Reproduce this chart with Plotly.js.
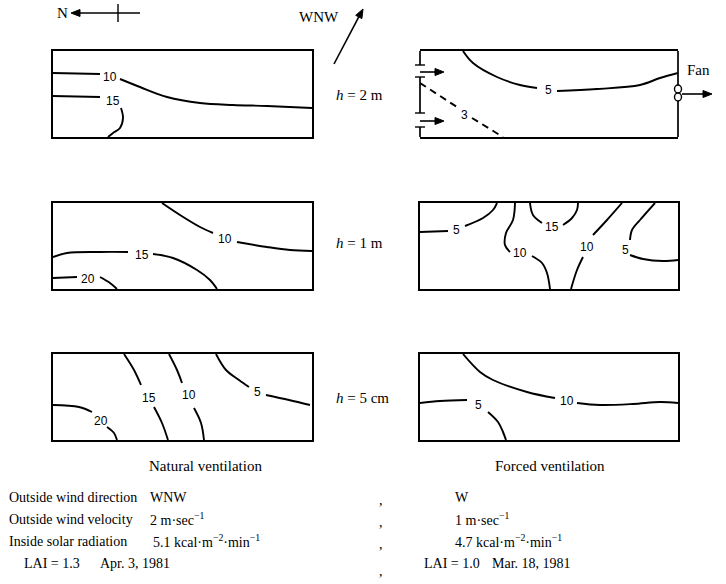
<!DOCTYPE html>
<html><head><meta charset="utf-8">
<script src="https://cdn.plot.ly/plotly-3.0.1.min.js"></script>
<style>body{margin:0;background:#fff}</style>
</head><body><div id="chart" style="width:726px;height:584px"></div>
<script>
// ---- Isoline data (panel-local units: x along house, y across house) ----
// Panel 1: Natural ventilation, h = 2 m
const nat2m_10_x = [0, 47, null, 67, 87, 114, 147, 180, 214, 259];
const nat2m_10_y = [64, 63, null, 58, 50, 40, 34, 32, 31, 29];
const nat2m_15_x = [0, 47, null, 68, 70, 67, 60, 55];
const nat2m_15_y = [41, 40, null, 29, 19, 9, 4, 0];
const nat2m_lbl_x = [57, 60];
const nat2m_lbl_y = [60, 36];
const nat2m_lbl = ['10', '15'];

// Panel 2: Forced ventilation, h = 2 m
const frc2m_5_x = [43, 53, 77, 100, 117, null, 137, 177, 220, 240, 258];
const frc2m_5_y = [86, 74, 60, 52, 49, null, 46, 48, 52, 59, 64];
const frc2m_3_x = [0, 37, null, 52, 83];
const frc2m_3_y = [54, 30, null, 19, 0];
const frc2m_lbl_x = [128, 45];
const frc2m_lbl_y = [47, 22];
const frc2m_lbl = ['5', '3'];

// Panel 3: Natural ventilation, h = 1 m
const nat1m_10_x = [109, 127, 147, 160, null, 184, 214, 237, 259];
const nat1m_10_y = [86, 74, 62, 56, null, 47, 42, 39, 38];
const nat1m_15_x = [0, 14, 47, 75, null, 100, 120, 144, 157, 164];
const nat1m_15_y = [32, 36, 37, 37, null, 35, 31, 19, 9, 0];
const nat1m_20_x = [0, 24, null, 47, 57, 64];
const nat1m_20_y = [11, 12, null, 12, 6, 0];
const nat1m_lbl_x = [172, 89, 35];
const nat1m_lbl_y = [50, 34, 10];
const nat1m_lbl = ['10', '15', '20'];

// Panel 4: Forced ventilation, h = 1 m
const frc1m_5a_x = [0, 28, null, 45, 63, 73, 77];
const frc1m_5a_y = [57, 58, null, 63, 71, 79, 86];
const frc1m_10a_x = [95, 93, 86, 85, 90, null, 112, 122, 127, 130];
const frc1m_10a_y = [86, 69, 56, 44, 37, null, 33, 26, 16, 0];
const frc1m_15_x = [110, 113, 122, null, 143, 152, 157, 158];
const frc1m_15_y = [86, 74, 66, null, 64, 71, 79, 86];
const frc1m_10b_x = [151, 157, 163, null, 173, 187, 202];
const frc1m_10b_y = [0, 19, 32, null, 54, 69, 86];
const frc1m_5b_x = [235, 220, 212, 210, null, 210, 223, 243, 258];
const frc1m_5b_y = [86, 69, 59, 49, null, 34, 30, 28, 29];
const frc1m_lbl_x = [37, 100, 132, 167, 205];
const frc1m_lbl_y = [59, 36, 62, 42, 39];
const frc1m_lbl = ['5', '10', '15', '10', '5'];

// Panel 5: Natural ventilation, h = 5 cm
const nat5_15_x = [71, 81, 88, null, 101, 109, 115];
const nat5_15_y = [86, 70, 55, null, 33, 17, 0];
const nat5_10_x = [116, 124, 129, null, 141, 148, 151];
const nat5_10_y = [86, 70, 57, null, 32, 17, 0];
const nat5_5_x = [163, 173, 186, 196, null, 213, 236, 257];
const nat5_5_y = [86, 70, 60, 53, null, 45, 40, 35];
const nat5_20_x = [0, 26, 39, null, 54, 61, 64];
const nat5_20_y = [35, 33, 28, null, 13, 7, 0];
const nat5_lbl_x = [96, 136, 204, 48];
const nat5_lbl_y = [42, 45, 48, 19];
const nat5_lbl = ['15', '10', '5', '20'];

// Panel 6: Forced ventilation, h = 5 cm
const frc5_10_x = [43, 60, 73, 107, 135, null, 157, 180, 213, 240, 258];
const frc5_10_y = [86, 68, 60, 48, 42, null, 37, 35, 36, 38, 37];
const frc5_5_x = [0, 20, 47, null, 68, 78, 83, 86];
const frc5_5_y = [37, 39, 40, null, 28, 18, 8, 0];
const frc5_lbl_x = [147, 59];
const frc5_lbl_y = [39, 35];
const frc5_lbl = ['10', '5'];

// ---- Text ----
const rowLabels = ['Outside wind direction', 'Outside wind velocity', 'Inside solar radiation'];
const natValues = ['WNW', '2 m·sec<sup>−1</sup>', '5.1 kcal·m<sup>−2</sup>·min<sup>−1</sup>'];
const frcValues = ['W', '1 m·sec<sup>−1</sup>', '4.7 kcal·m<sup>−2</sup>·min<sup>−1</sup>'];
const heightLabels = ['<i>h</i> = 2 m', '<i>h</i> = 1 m', '<i>h</i> = 5 cm'];

// ---- Layout geometry (pixels) ----
const W = 726, H = 584;
const PX = v => v / W, PY = v => 1 - v / H;
const cols = [[53, 312], [420, 678]];
const rows = [[51, 137], [203, 289], [354, 440]];

const traces = [];
const A = [], S = [];
function ax(k) { return k === 1 ? '' : String(k); }
function line(xs, ys, k, dash) {
  traces.push({type: 'scatter', mode: 'lines', x: xs, y: ys, xaxis: 'x' + ax(k), yaxis: 'y' + ax(k),
    line: {color: '#000', width: 1.9, shape: dash ? 'linear' : 'spline', smoothing: 1, dash: dash ? '7px,5px' : 'solid'},
    connectgaps: false, hoverinfo: 'skip', showlegend: false});
}
function labels(xs, ys, tx, k) {
  xs.forEach((x, i) => A.push({xref: 'x' + ax(k), yref: 'y' + ax(k), x: x, y: ys[i], text: tx[i], showarrow: false,
    xanchor: 'center', yanchor: 'middle',
    font: {family: 'Liberation Sans, Arial, sans-serif', size: 12, color: '#000'}}));
}

line(nat2m_10_x, nat2m_10_y, 1); line(nat2m_15_x, nat2m_15_y, 1); labels(nat2m_lbl_x, nat2m_lbl_y, nat2m_lbl, 1);
line(frc2m_5_x, frc2m_5_y, 2); line(frc2m_3_x, frc2m_3_y, 2, true); labels(frc2m_lbl_x, frc2m_lbl_y, frc2m_lbl, 2);
line(nat1m_10_x, nat1m_10_y, 3); line(nat1m_15_x, nat1m_15_y, 3); line(nat1m_20_x, nat1m_20_y, 3); labels(nat1m_lbl_x, nat1m_lbl_y, nat1m_lbl, 3);
line(frc1m_5a_x, frc1m_5a_y, 4); line(frc1m_10a_x, frc1m_10a_y, 4); line(frc1m_15_x, frc1m_15_y, 4);
line(frc1m_10b_x, frc1m_10b_y, 4); line(frc1m_5b_x, frc1m_5b_y, 4); labels(frc1m_lbl_x, frc1m_lbl_y, frc1m_lbl, 4);
line(nat5_15_x, nat5_15_y, 5); line(nat5_10_x, nat5_10_y, 5); line(nat5_5_x, nat5_5_y, 5); line(nat5_20_x, nat5_20_y, 5); labels(nat5_lbl_x, nat5_lbl_y, nat5_lbl, 5);
line(frc5_10_x, frc5_10_y, 6); line(frc5_5_x, frc5_5_y, 6); labels(frc5_lbl_x, frc5_lbl_y, frc5_lbl, 6);

const layout = {
  width: W, height: H, margin: {l: 0, r: 0, t: 0, b: 0},
  paper_bgcolor: '#fff', plot_bgcolor: 'rgba(0,0,0,0)', showlegend: false,
  annotations: A, shapes: S
};
for (let k = 1; k <= 6; k++) {
  const c = cols[(k - 1) % 2], r = rows[Math.floor((k - 1) / 2)];
  const sfx = ax(k);
  const common = {showgrid: false, zeroline: false, showticklabels: false, ticks: '', fixedrange: true,
    showline: true, mirror: true, linecolor: '#000', linewidth: 1.7};
  layout['xaxis' + sfx] = Object.assign({}, common, {domain: [PX(c[0]), PX(c[1])], range: [0, c[1] - c[0]], anchor: 'y' + sfx});
  layout['yaxis' + sfx] = Object.assign({}, common, {domain: [PY(r[1]), PY(r[0])], range: [0, r[1] - r[0]], anchor: 'x' + sfx});
}
// forced ventilation h=2m: side walls drawn separately (openings and fan)
layout.yaxis2.showline = false;

const serif = 'Liberation Serif, Times New Roman, serif';
function T(text, x, y, size, anchor) {
  A.push({xref: 'paper', yref: 'paper', x: PX(x), y: PY(y), text: text, showarrow: false,
    xanchor: anchor || 'left', yanchor: 'middle', font: {family: serif, size: size || 15, color: '#000'}});
}
function SEG(x0, y0, x1, y1, w) {
  S.push({type: 'line', xref: 'paper', yref: 'paper', x0: PX(x0), y0: PY(y0), x1: PX(x1), y1: PY(y1),
    line: {color: '#000', width: w || 1.7}});
}
// arrow drawn as a line plus a filled triangular head at the tip (tx, ty)
function ARROW(tx, ty, fx, fy) {
  const dx = tx - fx, dy = ty - fy, L = Math.hypot(dx, dy), ux = dx / L, uy = dy / L;
  const hl = 9, hw = 3.5;
  const bx = tx - ux * hl, by = ty - uy * hl;
  SEG(fx, fy, bx, by, 1.6);
  const p1 = [bx - uy * hw, by + ux * hw], p2 = [bx + uy * hw, by - ux * hw];
  S.push({type: 'path', xref: 'paper', yref: 'paper',
    path: `M ${PX(tx)} ${PY(ty)} L ${PX(p1[0])} ${PY(p1[1])} L ${PX(p2[0])} ${PY(p2[1])} Z`,
    fillcolor: '#000', line: {color: '#000', width: 1}});
}

// compass and wind
T('N', 55, 13, 15);
ARROW(71, 13, 140, 13);
SEG(118, 4, 118, 22, 1.4);
T('WNW', 297, 17, 15);
ARROW(363, 9, 334, 64);

// height labels
heightLabels.forEach((t, i) => T(t, 334, [95, 243, 398][i], 15));

// forced h=2m walls: left wall with two inlets, right wall with fan
SEG(420, 51, 420, 65); SEG(420, 77, 420, 113); SEG(420, 127, 420, 137);
[65, 77, 113, 127].forEach(y => SEG(415, y, 425, y, 1.4));
ARROW(444, 72, 420, 72);
ARROW(444, 121, 420, 121);
SEG(678, 51, 678, 137);
S.push({type: 'circle', xref: 'paper', yref: 'paper', x0: PX(674.5), x1: PX(681.5), y0: PY(93), y1: PY(85),
  fillcolor: '#fff', line: {color: '#000', width: 1.4}});
S.push({type: 'circle', xref: 'paper', yref: 'paper', x0: PX(674.5), x1: PX(681.5), y0: PY(101), y1: PY(93),
  fillcolor: '#fff', line: {color: '#000', width: 1.4}});
ARROW(712, 94, 682, 94);
T('Fan', 685, 70, 15);

// captions
T('Natural ventilation', 206, 466, 15, 'center');
T('Forced ventilation', 550, 466, 15, 'center');
const rowY = [497, 519, 541];
rowLabels.forEach((t, i) => T(t, 7, rowY[i], 14));
natValues.forEach((t, i) => T(t, i === 2 ? 151 : 148, rowY[i], 14));
frcValues.forEach((t, i) => T(t, 453, rowY[i], 14));
rowY.forEach(y => T(',', 377, y + 3, 14));
T('LAI = 1.3', 22, 563, 14);
T('Apr. 3, 1981', 98, 563, 14);
T(',', 377, 571, 14);
T('LAI = 1.0', 422, 563, 14);
T('Mar. 18, 1981', 490, 563, 14);

Plotly.newPlot('chart', traces, layout, {staticPlot: true, displayModeBar: false});
</script></body></html>
